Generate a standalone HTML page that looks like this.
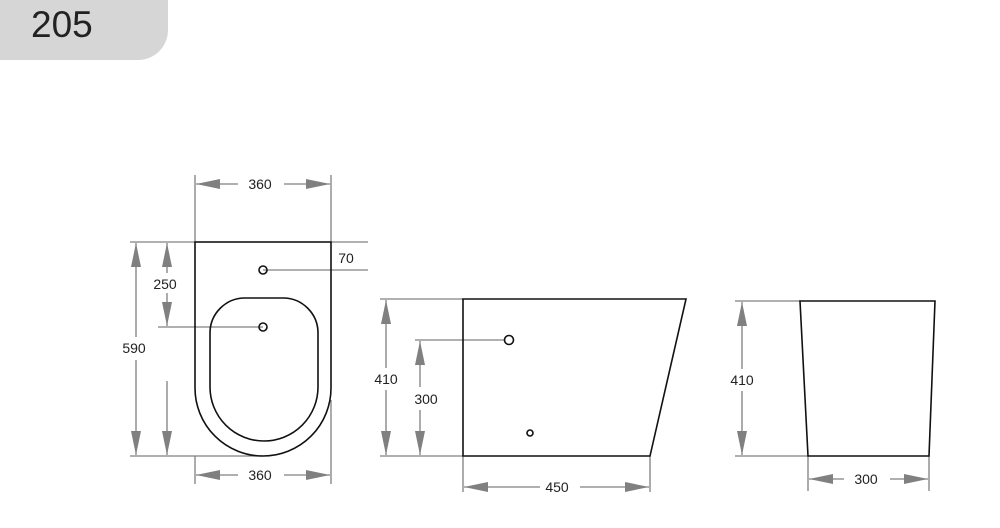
<!DOCTYPE html>
<html><head><meta charset="utf-8"><style>
html,body{margin:0;padding:0;background:#fff;width:1000px;height:528px;overflow:hidden}
svg{display:block}
text{font-family:"Liberation Sans",sans-serif;fill:#222}
</style></head><body>
<svg width="1000" height="528" viewBox="0 0 1000 528" xmlns="http://www.w3.org/2000/svg">
<defs>
<marker id="a" markerWidth="24" markerHeight="10" refX="24" refY="5" orient="auto" markerUnits="userSpaceOnUse">
<path d="M0,0 L24,5 L0,10 Z" fill="#808080"/></marker>
</defs>
<path d="M0,0 H168 V30 A30,30 0 0 1 138,60 H0 Z" fill="#d6d6d6"/>
<text x="31" y="37" font-size="37">205</text>

<g stroke="#808080" stroke-width="1.3" fill="none">
<!-- front view dims -->
<line x1="195" y1="175" x2="195" y2="242"/><line x1="331" y1="175" x2="331" y2="242"/>
<line x1="195" y1="456" x2="195" y2="484"/><line x1="331" y1="400" x2="331" y2="484"/>
<line x1="130" y1="242" x2="368" y2="242"/>
<line x1="130" y1="456" x2="263" y2="456"/>
<line x1="263" y1="270" x2="368" y2="270"/>
<line x1="158" y1="327" x2="263" y2="327"/>
<line x1="238" y1="184" x2="196" y2="184" marker-end="url(#a)"/>
<line x1="284" y1="184" x2="330" y2="184" marker-end="url(#a)"/>
<line x1="238" y1="475" x2="196" y2="475" marker-end="url(#a)"/>
<line x1="284" y1="475" x2="330" y2="475" marker-end="url(#a)"/>
<line x1="136" y1="337" x2="136" y2="243" marker-end="url(#a)"/>
<line x1="136" y1="360" x2="136" y2="455" marker-end="url(#a)"/>
<line x1="167" y1="273" x2="167" y2="243" marker-end="url(#a)"/>
<line x1="167" y1="293" x2="167" y2="326" marker-end="url(#a)"/>
<line x1="167" y1="381" x2="167" y2="455" marker-end="url(#a)"/>
<!-- side view dims -->
<line x1="380" y1="299" x2="463" y2="299"/><line x1="380" y1="456" x2="463" y2="456"/>
<line x1="415" y1="340" x2="505" y2="340"/>
<line x1="463" y1="456" x2="463" y2="492"/><line x1="650" y1="456" x2="650" y2="492"/>
<line x1="386" y1="368" x2="386" y2="300" marker-end="url(#a)"/>
<line x1="386" y1="390" x2="386" y2="455" marker-end="url(#a)"/>
<line x1="420" y1="387" x2="420" y2="341" marker-end="url(#a)"/>
<line x1="420" y1="410" x2="420" y2="455" marker-end="url(#a)"/>
<line x1="540" y1="487" x2="464" y2="487" marker-end="url(#a)"/>
<line x1="580" y1="487" x2="649" y2="487" marker-end="url(#a)"/>
<!-- right view dims -->
<line x1="735" y1="301" x2="800" y2="301"/><line x1="735" y1="456" x2="808" y2="456"/>
<line x1="808" y1="456" x2="808" y2="491"/><line x1="929" y1="456" x2="929" y2="491"/>
<line x1="742" y1="369" x2="742" y2="302" marker-end="url(#a)"/>
<line x1="742" y1="391" x2="742" y2="455" marker-end="url(#a)"/>
<line x1="844" y1="479" x2="809" y2="479" marker-end="url(#a)"/>
<line x1="890" y1="479" x2="928" y2="479" marker-end="url(#a)"/>
</g>

<g stroke="#111" stroke-width="1.6" fill="none">
<path d="M195,242 H331 V388 A68,68 0 0 1 195,388 Z"/>
<path d="M245,298 H283 A35,35 0 0 1 318,333 V387 A54,54 0 0 1 210,387 V333 A35,35 0 0 1 245,298 Z"/>
<circle cx="263" cy="270" r="4"/>
<circle cx="263" cy="327" r="4"/>
<path d="M463,299 H686 L650,456 H463 Z"/>
<circle cx="509" cy="340" r="4.5"/>
<circle cx="530" cy="433" r="3"/>
<path d="M800,301 H935 L929,456 H808 Z"/>
</g>

<g font-size="14">
<text x="260" y="189" text-anchor="middle">360</text>
<text x="260" y="480" text-anchor="middle">360</text>
<text x="346" y="263" text-anchor="middle">70</text>
<text x="165" y="289" text-anchor="middle">250</text>
<text x="134" y="353" text-anchor="middle">590</text>
<text x="386" y="384" text-anchor="middle">410</text>
<text x="426" y="404" text-anchor="middle">300</text>
<text x="557" y="492" text-anchor="middle">450</text>
<text x="742" y="385" text-anchor="middle">410</text>
<text x="866" y="484" text-anchor="middle">300</text>
</g>
</svg>
</body></html>
